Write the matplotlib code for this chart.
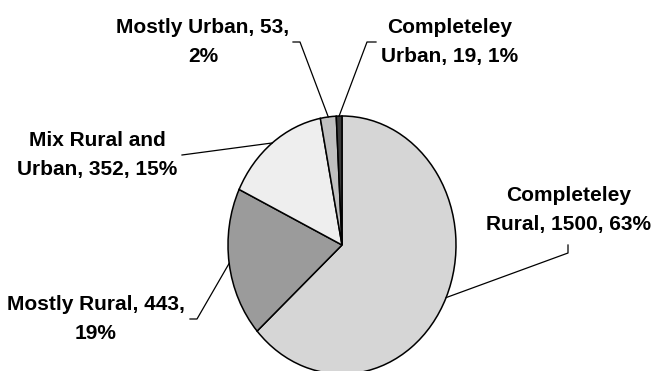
import matplotlib.pyplot as plt
import numpy as np

plt.rcParams['font.family'] = ['Liberation Sans', 'DejaVu Sans']

# Data
categories = ['Completeley Rural', 'Mostly Rural', 'Mix Rural and Urban',
              'Mostly Urban', 'Completeley Urban']
counts = [1500, 443, 352, 53, 19]
percents = [63, 19, 15, 2, 1]
labels = ['Completeley\nRural, 1500, 63%', 'Mostly Rural, 443,\n19%',
          'Mix Rural and\nUrban, 352, 15%', 'Mostly Urban, 53,\n2%',
          'Completeley\nUrban, 19, 1%']
colors = ['#d6d6d6', '#9b9b9b', '#eeeeee', '#c0c0c0', '#3c3c3c']

# Pie is stretched (Excel-like ellipse); center/radii in pixels
W, H = 655, 371
CX, CY, RX, RY = 342, 245, 114, 129


def px(x, y):
    return (x - CX) / RX, (CY - y) / RY


# label centres and leader elbows in pixel coords
label_pos = [(569, 210), (96, 319), (97, 155), (203, 42), (450, 42)]
elbows = [[(568, 253), (568, 245)],
          [(197, 319), (190, 319)],
          [(182, 155)],
          [(300, 42), (293, 42)],
          [(367, 42), (376, 42)]]

fig = plt.figure(figsize=(W / 100, H / 100), dpi=100)
ax = fig.add_axes([0, 0, 1, 1])

wedges, _ = ax.pie(counts, colors=colors, startangle=90, counterclock=False,
                   wedgeprops=dict(edgecolor='black', linewidth=1.1))

ax.set_aspect('auto')
ax.set_xlim(-CX / RX, (W - CX) / RX)
ax.set_ylim((CY - H) / RY, CY / RY)
ax.axis('off')

for w, lab, pos, elb in zip(wedges, labels, label_pos, elbows):
    mid = np.deg2rad((w.theta1 + w.theta2) / 2)
    xs = [np.cos(mid)] + [px(*p)[0] for p in elb]
    ys = [np.sin(mid)] + [px(*p)[1] for p in elb]
    ax.plot(xs, ys, color='black', linewidth=0.9)
    tx, ty = px(*pos)
    ax.text(tx, ty, lab, ha='center', va='center', multialignment='center',
            fontsize=15, fontweight='bold', linespacing=1.65)

plt.savefig('out.png', dpi=100)
